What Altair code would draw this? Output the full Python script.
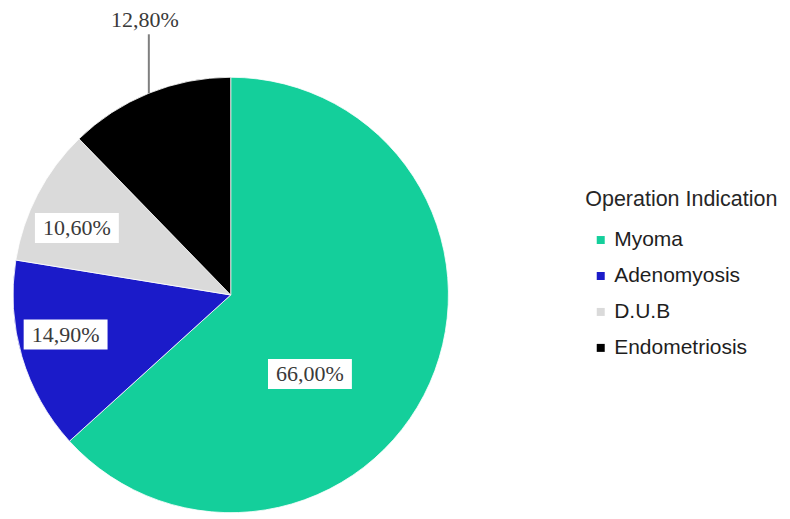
import altair as alt
import pandas as pd

# ---- data ----
categories = ["Myoma", "Adenomyosis", "D.U.B", "Endometriosis"]
values = [66.0, 14.9, 10.6, 12.8]
labels = ["66,00%", "14,90%", "10,60%", "12,80%"]
colors = ["#14cf9b", "#1b1bc9", "#dadada", "#000000"]

# ---- layout / style ----
CX, CY, R = 218, 282, 218          # pie centre and radius inside the plot area
BOX_W, BOX_H = 84, 30              # white label boxes
# inside labels: (radius, angle nudge in degrees) relative to slice mid-angle
label_style = {"Myoma": (112, 21), "Adenomyosis": (170, 3), "D.U.B": (168, -4)}
outside_cat = "Endometriosis"
LEADER_LEN, OUT_TEXT = 59, 73

df = pd.DataFrame({"cat": categories, "value": values, "label": labels,
                   "order": list(range(len(categories)))})


def chain_expr(mapping, idx):
    expr = "0"
    for k, v in reversed(list(mapping.items())):
        expr = f"datum.cat == '{k}' ? {v[idx]} : ({expr})"
    return expr


base = (
    alt.Chart(df)
    .transform_window(cum="sum(value)", sort=[alt.SortField("order")], frame=[None, 0])
    .transform_joinaggregate(total="sum(value)")
    .transform_calculate(mid="(datum.cum - datum.value/2) / datum.total * 2 * PI")
)

pie = alt.Chart(df).mark_arc(radius=R, stroke="white", strokeWidth=0.8).encode(
    theta=alt.Theta("value:Q", stack=True),
    order=alt.Order("order:Q"),
    color=alt.Color(
        "cat:N",
        scale=alt.Scale(domain=categories, range=colors),
        sort=categories,
        legend=alt.Legend(
            title="Operation Indication",
            orient="none",
            legendX=573,
            legendY=176,
            padding=0,
            titleFont="Liberation Sans",
            titleFontSize=21.5,
            titleFontWeight="normal",
            titleColor="#262626",
            titlePadding=19,
            titleLimit=400,
            labelFont="Liberation Sans",
            labelFontSize=21,
            labelColor="#1e1e1e",
            labelOffset=3,
            labelLimit=300,
            symbolType="square",
            symbolSize=64,
            symbolStrokeWidth=0,
            symbolOffset=5,
            rowPadding=14,
        ),
    ),
    x=alt.value(CX),
    y=alt.value(CY),
)

inside = (
    base.transform_filter(f"datum.cat != '{outside_cat}'")
    .transform_calculate(
        r=chain_expr(label_style, 0),
        nudge=chain_expr(label_style, 1),
    )
    .transform_calculate(ang="datum.mid + datum.nudge * PI / 180")
    .transform_calculate(
        lx=f"{CX} + datum.r * sin(datum.ang)",
        ly=f"{CY} - datum.r * cos(datum.ang)",
    )
    .transform_calculate(
        bx0=f"datum.lx - {BOX_W/2}", bx1=f"datum.lx + {BOX_W/2}",
        by0=f"datum.ly - {BOX_H/2}", by1=f"datum.ly + {BOX_H/2}",
    )
)

boxes = inside.mark_rect(fill="white").encode(
    x=alt.X("bx0:Q", scale=None, axis=None),
    x2="bx1:Q",
    y=alt.Y("by0:Q", scale=None, axis=None),
    y2="by1:Q",
)

texts = inside.mark_text(font="Liberation Serif", fontSize=22, color="#3a3a3a",
                         baseline="middle", align="center").encode(
    x=alt.X("lx:Q", scale=None, axis=None),
    y=alt.Y("ly:Q", scale=None, axis=None),
    text="label:N",
)

outside = (
    base.transform_filter(f"datum.cat == '{outside_cat}'")
    .transform_calculate(
        ex=f"{CX} + {R} * sin(datum.mid)",
        ey=f"{CY} - {R} * cos(datum.mid)",
    )
    .transform_calculate(
        ey2=f"datum.ey - {LEADER_LEN}",
        ty=f"datum.ey - {OUT_TEXT}",
    )
)

leader = outside.mark_rule(color="#7f7f7f", strokeWidth=2).encode(
    x=alt.X("ex:Q", scale=None, axis=None),
    y=alt.Y("ey:Q", scale=None, axis=None),
    y2="ey2:Q",
)

out_text = outside.mark_text(font="Liberation Serif", fontSize=22, color="#3a3a3a",
                             baseline="middle", align="center", dx=-4).encode(
    x=alt.X("ex:Q", scale=None, axis=None),
    y=alt.Y("ty:Q", scale=None, axis=None),
    text="label:N",
)

chart = (
    alt.layer(pie, leader, boxes, texts, out_text)
    .properties(
        width=770,
        height=500,
        autosize=alt.AutoSizeParams(type="none"),
        padding={"left": 5, "top": 5, "right": 0, "bottom": 5},
        background="white",
    )
    .configure_view(stroke=None)
)

chart.save("out.html", embed_options={"renderer": "svg", "actions": False})
